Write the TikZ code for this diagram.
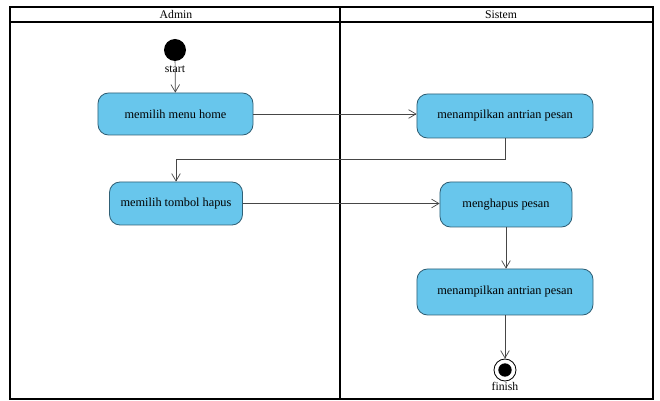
\documentclass[tikz,border=0pt]{standalone}
\usepackage{fontspec}
\setmainfont{Liberation Serif}
\usetikzlibrary{arrows.meta,positioning,calc}
\definecolor{actFill}{RGB}{104,198,236}
\definecolor{actLine}{RGB}{48,96,118}
\definecolor{flowGray}{RGB}{70,70,70}

\begin{document}
\begin{tikzpicture}[
  x=0.03cm,y=-0.03cm,
  action/.style={
    draw=actLine,
    fill=actFill,
    line width=0.7pt,
    rounded corners=9pt,
    align=center,
    inner sep=2pt,
    font=\fontsize{10.5}{12}\selectfont
  },
  lane/.style={draw,line width=0.9pt},
  flow/.style={-{Straight Barb[length=2.2mm,width=2.6mm]},flowGray,line width=0.6pt},
  tag/.style={font=\fontsize{10}{11}\selectfont,inner sep=0pt}
]
  \useasboundingbox[fill=white] (0,0) rectangle (660,401);
  % swimlanes
  \draw[lane] (10,7) rectangle (653,399);
  \draw[lane,line width=1.3pt] (10,22) -- (653,22);
  \draw[lane] (340,7) -- (340,399);
  \node[tag] (admin) at (176,14.5) {Admin};
  \node[tag] (sistem) at (501,14.5) {Sistem};
  % start and end
  \node[circle,fill=black,minimum size=0.66cm,inner sep=0pt] (start) at (175,50) {};
  \node[tag] (startlbl) at (175,69) {start};
  \node[circle,draw,line width=0.7pt,minimum size=0.66cm,inner sep=0pt] (finish) at (505,370) {};
  \node[circle,fill=black,minimum size=0.4cm,inner sep=0pt] at (finish) {};
  \node[tag] (finishlbl) at (505,386) {finish};
  % actions
  \node[action,minimum width=4.65cm,minimum height=1.26cm] (home) at (175.5,114) {memilih menu home};
  \node[action,minimum width=5.28cm,minimum height=1.32cm] (antrian) at (505,116) {menampilkan antrian pesan};
  \node[action,minimum width=3.99cm,minimum height=1.29cm] (tombol) at (176,203.5) {memilih tombol hapus};
  \node[action,minimum width=3.96cm,minimum height=1.35cm] (hapus) at (506,204.5) {menghapus pesan};
  \node[action,minimum width=5.28cm,minimum height=1.38cm] (antrian2) at (505,292) {menampilkan antrian pesan};
  \coordinate (belok) at (176,159);
  % flows
  \draw[flow] (start) -- (home);
  \draw[flow] (home.east) -- (home.east -| antrian.west);
  \draw[flow] (antrian.south) |- (belok) -- (tombol.north);
  \draw[flow] (tombol.east) -- (tombol.east -| hapus.west);
  \draw[flow] (hapus.south) -- (hapus.south |- antrian2.north);
  \draw[flow] (antrian2.south) -- (finish);
\end{tikzpicture}
\end{document}
